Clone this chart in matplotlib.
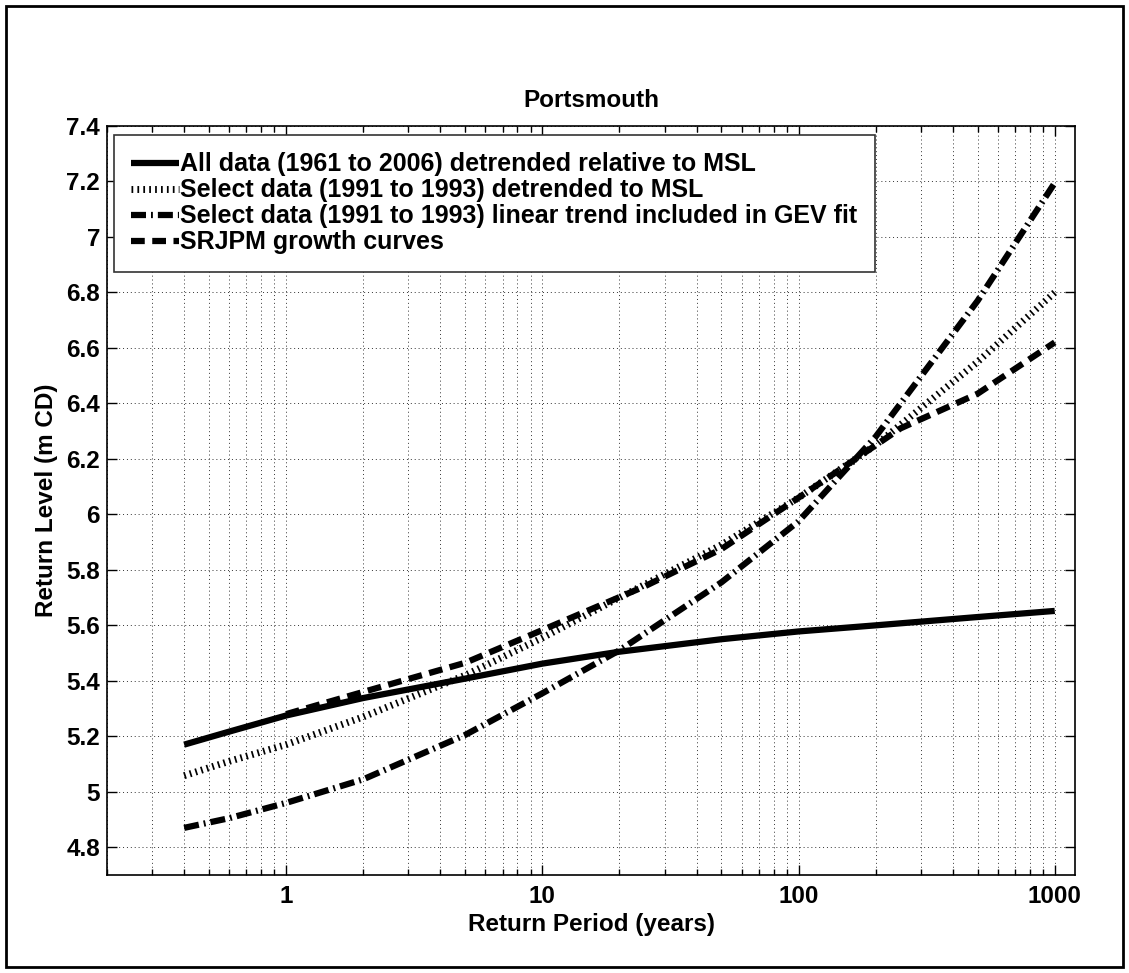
import matplotlib
matplotlib.use("Agg")
import matplotlib.pyplot as plt
from matplotlib.patches import Rectangle
from matplotlib.ticker import LogLocator, FixedLocator, FuncFormatter, NullFormatter

plt.rcParams['font.family'] = ['Liberation Sans', 'DejaVu Sans']
plt.rcParams['font.weight'] = 'bold'

# return periods (years) and levels (m CD)
t_gev = [0.4, 0.6, 1, 2, 5, 10, 20, 50, 100, 200, 500, 1000]
all_detrended = [5.17, 5.217, 5.275, 5.338, 5.408, 5.462, 5.505, 5.55, 5.578, 5.60, 5.63, 5.652]
sel_detrended = [5.058, 5.11, 5.17, 5.27, 5.42, 5.555, 5.70, 5.89, 6.06, 6.25, 6.55, 6.80]
sel_trend = [4.87, 4.905, 4.96, 5.045, 5.205, 5.355, 5.51, 5.755, 5.975, 6.28, 6.77, 7.195]

t_srjpm = [1, 2, 5, 10, 25, 50, 100, 250, 500, 1000]
srjpm = [5.28, 5.36, 5.465, 5.583, 5.74, 5.875, 6.06, 6.31, 6.435, 6.62]

labels = [
    'All data (1961 to 2006) detrended relative to MSL',
    'Select data (1991 to 1993) detrended to MSL',
    'Select data (1991 to 1993) linear trend included in GEV fit',
    'SRJPM growth curves',
]

fig = plt.figure(figsize=(11.29, 9.73), dpi=100)
ax = fig.add_axes([0.0948, 0.1007, 0.8574, 0.7698])

ax.plot(t_gev, all_detrended, color='k', lw=4.5, solid_capstyle='butt', label=labels[0])
ax.plot(t_gev, sel_detrended, color='k', lw=5, linestyle=(0, (0.25, 0.6)), dash_capstyle='butt', label=labels[1])
ax.plot(t_gev, sel_trend, color='k', lw=4.5, linestyle=(0, (2.4, 0.8, 0.3, 0.8)), dash_capstyle='butt', label=labels[2])
ax.plot(t_srjpm, srjpm, color='k', lw=4.5, linestyle=(0, (2.2, 1.2)), dash_capstyle='butt', label=labels[3])

ax.set_xscale('log')
ax.set_xlim(0.2, 1200)
ax.set_ylim(4.7, 7.4)
ax.xaxis.set_major_locator(FixedLocator([1, 10, 100, 1000]))
ax.xaxis.set_major_formatter(FuncFormatter(lambda v, p: '%g' % v))
ax.xaxis.set_minor_locator(LogLocator(base=10, subs=range(2, 10), numticks=20))
ax.xaxis.set_minor_formatter(NullFormatter())
ax.set_yticks([4.8 + 0.2 * i for i in range(14)])
ax.yaxis.set_major_formatter(FuncFormatter(lambda v, p: '%g' % round(v, 1)))

ax.grid(True, which='major', color='#333333', linestyle=(0, (1, 3)), linewidth=0.7)
ax.grid(True, which='minor', axis='x', color='#333333', linestyle=(0, (1, 3)), linewidth=0.7)
ax.tick_params(which='both', direction='in', top=True, right=True, labelsize=17.5)
ax.tick_params(which='major', length=7, width=1, pad=7)
ax.tick_params(axis='y', which='major', pad=5)
ax.tick_params(which='minor', length=4, width=1)
for s in ax.spines.values():
    s.set_linewidth(1.2)

ax.set_title('Portsmouth', fontsize=17.5, fontweight='bold', pad=14)
ax.set_xlabel('Return Period (years)', fontsize=17.5, fontweight='bold', labelpad=4)
ax.set_ylabel('Return Level (m CD)', fontsize=17.5, fontweight='bold', labelpad=6)

leg = ax.legend(loc='upper left', bbox_to_anchor=(0.007, 0.988), fontsize=18,
                handlelength=1.9, handletextpad=0.05, labelspacing=0.08,
                borderpad=0.7, borderaxespad=0, fancybox=False, framealpha=1,
                edgecolor='#333333')
leg.get_frame().set_linewidth(1.2)

# outer frame around the whole figure
fig.patches.append(Rectangle((0.005, 0.006), 0.99, 0.988, transform=fig.transFigure,
                             fill=False, edgecolor='k', linewidth=2))

fig.savefig('out.png', dpi=100)
